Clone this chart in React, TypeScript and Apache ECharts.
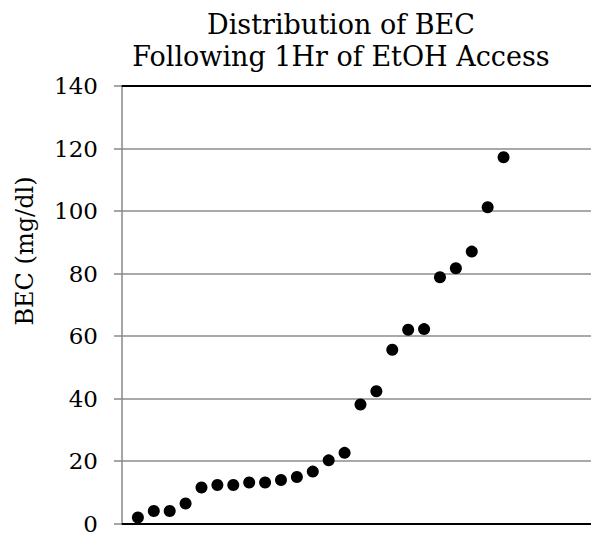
import React, { useEffect, useRef } from "react";
import * as echarts from "echarts";

const subjectIndex = [1, 2, 3, 4, 5, 6, 7, 8, 9, 10, 11, 12, 13, 14, 15, 16, 17, 18, 19, 20, 21, 22, 23, 24];
const becValues = [1.9, 4.0, 4.0, 6.4, 11.5, 12.3, 12.3, 13.1, 13.1, 13.9, 14.9, 16.6, 20.2, 22.6, 38.1, 42.3, 55.6, 62.0, 62.2, 78.8, 81.7, 87.0, 101.2, 117.2];
const titleLines = ["Distribution of BEC", "Following 1Hr of EtOH Access"];
const yAxisName = "BEC (mg/dl)";

const FONT = "DejaVu Serif";

export default function App() {
  const ref = useRef<HTMLDivElement>(null);
  useEffect(() => {
    if (!ref.current) return;
    const chart = echarts.init(ref.current, null, { renderer: "svg" });
    const points = subjectIndex.map((x, i) => [x, becValues[i]]);
    chart.setOption({
      animation: false,
      backgroundColor: "#ffffff",
      title: {
        text: titleLines.join("\n"),
        left: 336,
        top: 3,
        textAlign: "center",
        textStyle: {
          fontFamily: FONT,
          fontSize: 27,
          lineHeight: 32,
          fontWeight: "normal",
          color: "#000000",
        },
      },
      graphic: [
        {
          type: "text",
          x: 25,
          y: 251,
          rotation: Math.PI / 2,
          style: {
            text: yAxisName,
            fontFamily: FONT,
            fontSize: 24,
            fill: "#000000",
            textAlign: "center",
            textVerticalAlign: "middle",
          },
        },
      ],
      grid: { left: 122, right: 0, top: 86, bottom: 10 },
      xAxis: [
        {
          type: "value",
          min: 0,
          max: 29.5,
          position: "bottom",
          axisLine: { show: true, lineStyle: { color: "#000000", width: 2 } },
          axisTick: { show: false },
          axisLabel: { show: false },
          splitLine: { show: false },
        },
        {
          type: "value",
          min: 0,
          max: 29.5,
          position: "top",
          axisLine: { show: true, lineStyle: { color: "#000000", width: 2 } },
          axisTick: { show: false },
          axisLabel: { show: false },
          splitLine: { show: false },
        },
      ],
      yAxis: {
        type: "value",
        min: 0,
        max: 140,
        interval: 20,
        axisLine: { show: true, lineStyle: { color: "#888888", width: 1.5 } },
        axisTick: { show: true, inside: false, length: 8, lineStyle: { color: "#888888", width: 1.5 } },
        axisLabel: {
          fontFamily: FONT,
          fontSize: 23,
          color: "#000000",
          margin: 24,
        },
        splitLine: { show: true, lineStyle: { color: "#8c8c8c", width: 1.5 } },
      },
      series: [
        {
          type: "scatter",
          xAxisIndex: 0,
          data: points,
          symbol: "circle",
          symbolSize: 12,
          itemStyle: { color: "#000000", opacity: 1 },
        },
      ],
    });
    return () => chart.dispose();
  }, []);
  return (
    <div
      ref={ref}
      style={{ position: "fixed", left: 0, top: 0, width: 591, height: 535 }}
    />
  );
}
